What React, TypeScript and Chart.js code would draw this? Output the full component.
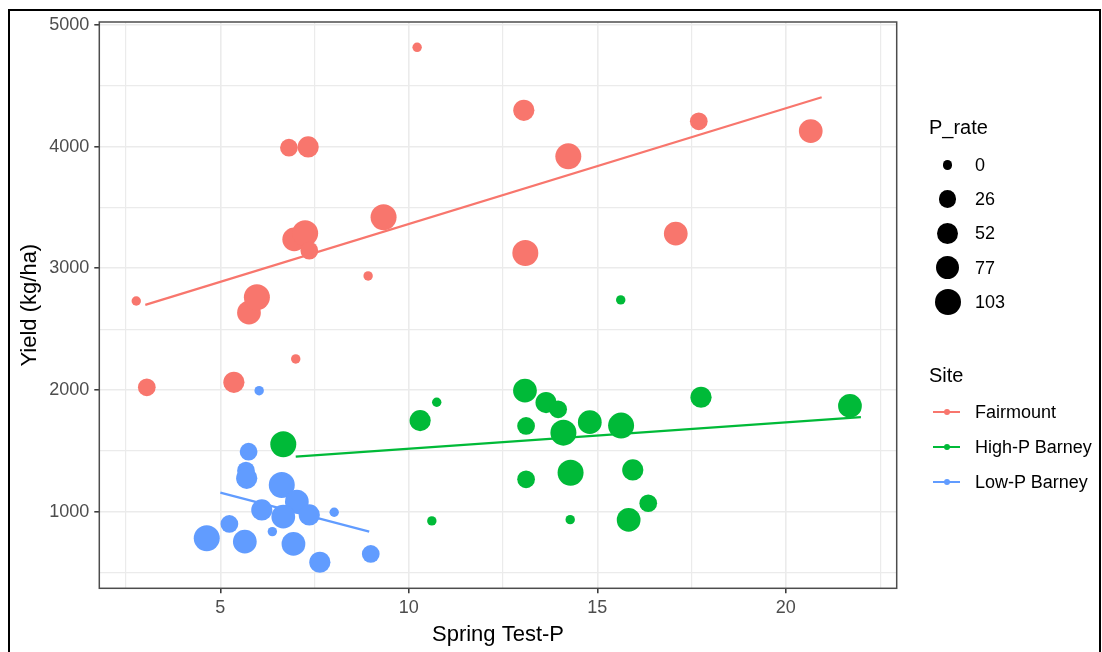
import React, { useEffect, useRef } from "react";
import { Chart, registerables } from "chart.js";

Chart.register(...registerables);

// ---------- data ----------
const sites = ["Fairmount", "High-P Barney", "Low-P Barney"];
const siteColors = ["#F8766D", "#00BA38", "#619CFF"];
const pRateBreaks = [0, 26, 52, 77, 103];

const xMajorTicks = [5, 10, 15, 20];
const xGridTicks = [2.5, 5, 7.5, 10, 12.5, 15, 17.5, 20, 22.5];
const yMajorTicks = [1000, 2000, 3000, 4000, 5000];
const yGridTicks = [500, 1000, 1500, 2000, 2500, 3000, 3500, 4000, 4500, 5000];

const fairmountX = [2.77, 3.05, 5.36, 7.0, 5.76, 5.97, 8.92, 6.96, 7.25, 7.36, 6.82, 7.33, 9.33, 10.22, 13.05, 14.23, 13.09, 17.08, 17.69, 20.66];
const fairmountY = [2731, 2022, 2063, 2255, 2635, 2762, 2937, 3238, 3288, 3145, 3991, 3997, 3419, 4816, 4298, 3920, 3126, 3284, 4208, 4128];
const fairmountP = [0, 26, 52, 0, 77, 103, 0, 77, 103, 26, 26, 52, 103, 0, 52, 103, 103, 77, 26, 77];

const highPX = [6.67, 15.62, 10.3, 10.74, 10.61, 13.08, 13.64, 13.96, 13.11, 14.1, 14.8, 15.63, 17.75, 21.7, 13.11, 14.29, 15.94, 16.35, 15.83, 14.28];
const highPY = [1554, 2740, 1748, 1899, 924, 1994, 1896, 1841, 1704, 1649, 1735, 1707, 1940, 1869, 1266, 1320, 1343, 1069, 932, 934];
const highPP = [103, 0, 52, 0, 0, 77, 52, 26, 26, 103, 77, 103, 52, 77, 26, 103, 52, 26, 77, 0];

const lowPX = [6.03, 5.75, 5.68, 5.7, 6.63, 7.03, 6.1, 6.67, 7.36, 8.02, 5.24, 6.38, 4.64, 5.65, 6.94, 7.64, 8.99];
const lowPY = [1994, 1493, 1337, 1274, 1219, 1082, 1014, 959, 973, 995, 899, 836, 781, 753, 735, 584, 652];
const lowPP = [0, 26, 26, 52, 103, 77, 52, 77, 52, 0, 26, 0, 103, 77, 77, 52, 26];

const fairmountFitX = [3.01, 20.95];
const fairmountFitY = [2699, 4405];
const highPFitX = [7.0, 21.99];
const highPFitY = [1452, 1776];
const lowPFitX = [5.0, 8.95];
const lowPFitY = [1156, 836];

// ---------- helpers ----------
const FONT = '"Liberation Sans", Arial, sans-serif';
const R_MIN = 4.7;
const R_MAX = 13;
const sizeOf = (p: number) => R_MIN + (R_MAX - R_MIN) * Math.sqrt(p / 103);

const toBubbles = (xs: number[], ys: number[], ps: number[]) =>
  xs.map((x, i) => ({ x, y: ys[i], r: sizeOf(ps[i]) }));
const toLine = (xs: number[], ys: number[]) => xs.map((x, i) => ({ x, y: ys[i] }));

export default function App() {
  const ref = useRef<HTMLCanvasElement>(null);

  useEffect(() => {
    if (!ref.current) return;
    const panelFrame = {
      id: "panelFrame",
      afterDatasetsDraw(chart: any) {
        const { ctx, chartArea: a } = chart;
        ctx.save();
        ctx.strokeStyle = "#4D4D4D";
        ctx.lineWidth = 1.5;
        ctx.strokeRect(a.left, a.top, a.right - a.left, a.bottom - a.top);
        ctx.restore();
      },
    };

    const bubbleSets = [
      [fairmountX, fairmountY, fairmountP],
      [highPX, highPY, highPP],
      [lowPX, lowPY, lowPP],
    ].map(([xs, ys, ps], i) => ({
      type: "bubble" as const,
      label: sites[i],
      data: toBubbles(xs, ys, ps),
      backgroundColor: siteColors[i],
      borderColor: siteColors[i],
      borderWidth: 0,
      hoverRadius: 0,
    }));

    const lineSets = [
      [fairmountFitX, fairmountFitY],
      [highPFitX, highPFitY],
      [lowPFitX, lowPFitY],
    ].map(([xs, ys], i) => ({
      type: "line" as const,
      label: sites[i] + " fit",
      data: toLine(xs, ys),
      borderColor: siteColors[i],
      backgroundColor: siteColors[i],
      borderWidth: 2.2,
      pointRadius: 0,
      tension: 0,
      fill: false,
    }));

    const isMajorX = (v: number) => xMajorTicks.includes(v);
    const isMajorY = (v: number) => yMajorTicks.includes(v);

    const chart = new Chart(ref.current, {
      type: "bubble",
      data: { datasets: [...bubbleSets, ...lineSets] as any },
      options: {
        animation: false,
        responsive: false,
        events: [],
        layout: { padding: { left: 0, top: 22, right: 205.3, bottom: 0 } },
        plugins: { legend: { display: false }, tooltip: { enabled: false } },
        scales: {
          x: {
            type: "linear",
            min: 1.79,
            max: 22.94,
            afterBuildTicks: (s: any) => {
              s.ticks = xGridTicks.map((v) => ({ value: v }));
            },
            afterFit: (s: any) => {
              s.height = 63.7;
            },
            border: { display: false },
            grid: {
              color: "#EBEBEB",
              lineWidth: (c: any) => (isMajorX(c.tick?.value) ? 1.6 : 1.2),
              tickColor: (c: any) => (isMajorX(c.tick?.value) ? "#333333" : "rgba(0,0,0,0)"),
              tickLength: 5,
              tickWidth: 1.5,
            },
            ticks: {
              autoSkip: false,
              maxRotation: 0,
              padding: 4,
              color: "#4D4D4D",
              font: { family: FONT, size: 18 },
              callback: (v: any) => (isMajorX(Number(v)) ? String(v) : ""),
            },
            title: {
              display: true,
              text: "Spring Test-P",
              color: "#000000",
              font: { family: FONT, size: 22 },
              padding: { top: 0, bottom: 4.3 },
            },
          },
          y: {
            type: "linear",
            min: 370,
            max: 5024,
            afterBuildTicks: (s: any) => {
              s.ticks = yGridTicks.map((v) => ({ value: v }));
            },
            afterFit: (s: any) => {
              s.width = 99.3;
            },
            border: { display: false },
            grid: {
              color: "#EBEBEB",
              lineWidth: (c: any) => (isMajorY(c.tick?.value) ? 1.6 : 1.2),
              tickColor: (c: any) => (isMajorY(c.tick?.value) ? "#333333" : "rgba(0,0,0,0)"),
              tickLength: 5,
              tickWidth: 1.5,
            },
            ticks: {
              autoSkip: false,
              padding: 5,
              color: "#4D4D4D",
              font: { family: FONT, size: 18 },
              callback: (v: any) => (isMajorY(Number(v)) ? String(v) : ""),
            },
            title: {
              display: true,
              text: "Yield (kg/ha)",
              color: "#000000",
              font: { family: FONT, size: 22 },
              padding: { top: 16.3, bottom: 0 },
            },
          },
        },
      },
      plugins: [panelFrame],
    } as any);

    return () => chart.destroy();
  }, []);

  const textStyle = (left: number, top: number, size: number): React.CSSProperties => ({
    position: "absolute",
    left,
    top,
    fontSize: size,
    lineHeight: 1,
    color: "#000",
    transform: "translateY(-50%)",
    whiteSpace: "nowrap",
  });

  const sizeRows = [165, 199.2, 233.4, 267.6, 301.8];
  const siteRows = [411.7, 446.7, 481.7];

  return (
    <div
      style={{
        position: "fixed",
        left: 0,
        top: 0,
        width: 1102,
        height: 652,
        background: "#fff",
        fontFamily: FONT,
        overflow: "hidden",
      }}
    >
      <canvas ref={ref} width={1102} height={652} style={{ position: "absolute", left: 0, top: 0 }} />
      <div
        style={{
          position: "absolute",
          left: 8,
          top: 9,
          width: 1093,
          height: 660,
          boxSizing: "border-box",
          borderLeft: "2px solid #000",
          borderTop: "2px solid #000",
          borderRight: "2px solid #000",
          pointerEvents: "none",
        }}
      />
      <div style={textStyle(929, 127, 20)}>P_rate</div>
      {pRateBreaks.map((p, i) => {
        const r = sizeOf(p);
        return (
          <React.Fragment key={"p" + p}>
            <div
              style={{
                position: "absolute",
                left: 947.5 - r,
                top: sizeRows[i] - r,
                width: 2 * r,
                height: 2 * r,
                borderRadius: "50%",
                background: "#000",
              }}
            />
            <div style={textStyle(975, sizeRows[i], 18)}>{String(p)}</div>
          </React.Fragment>
        );
      })}
      <div style={textStyle(929, 375, 20)}>Site</div>
      {sites.map((s, i) => (
        <React.Fragment key={s}>
          <div
            style={{
              position: "absolute",
              left: 933,
              top: siteRows[i] - 1,
              width: 27,
              height: 2,
              background: siteColors[i],
            }}
          />
          <div
            style={{
              position: "absolute",
              left: 946.5 - 3,
              top: siteRows[i] - 3,
              width: 6,
              height: 6,
              borderRadius: "50%",
              background: siteColors[i],
            }}
          />
          <div style={textStyle(975, siteRows[i], 18)}>{s}</div>
        </React.Fragment>
      ))}
    </div>
  );
}
